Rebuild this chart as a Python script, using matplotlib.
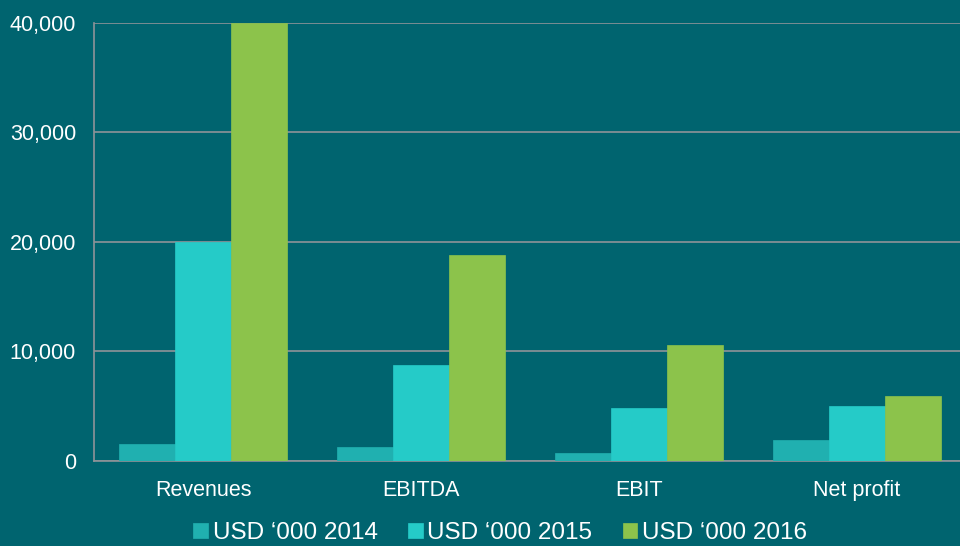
import numpy as np
import matplotlib
matplotlib.use('Agg')
from matplotlib import pyplot as plt
from matplotlib.ticker import FuncFormatter

### data
categories = ['Revenues', 'EBITDA', 'EBIT', 'Net profit']
usd_2014 = [1550, 1280, 730, 1920]
usd_2015 = [20000, 8770, 4840, 5020]
usd_2016 = [40000, 18800, 10600, 5940]
series_names = ['USD \u2018000 2014', 'USD \u2018000 2015', 'USD \u2018000 2016']

bg = '#00646F'
colors = ['#20B0B0', '#25CBC8', '#8CC34B']
plt.rcParams['font.family'] = ['Liberation Sans', 'DejaVu Sans']

fig = plt.figure(figsize=(9.6, 5.46), dpi=100, facecolor=bg)
ax = fig.add_axes([0.098, 0.156, 0.908, 0.802], facecolor=bg)

x = np.arange(len(categories))
w = 0.257
for i, vals in enumerate([usd_2014, usd_2015, usd_2016]):
    ax.bar(x + (i - 1) * w, vals, width=w, color=colors[i], label=series_names[i],
           edgecolor=colors[i], linewidth=0.5, zorder=3)

ax.set_xlim(-0.5, 3.5)
ax.set_ylim(0, 40000)
ax.set_yticks([0, 10000, 20000, 30000, 40000])
ax.yaxis.set_major_formatter(FuncFormatter(lambda v, p: f'{int(v):,}'))
ax.set_xticks(x)
ax.set_xticklabels(categories)
ax.grid(axis='y', color='#8E9398', linewidth=1.2, zorder=0)
ax.tick_params(axis='both', length=0, colors='white', labelsize=15.5)
ax.tick_params(axis='x', pad=14)
ax.tick_params(axis='y', pad=13)
for s in ['top', 'right']:
    ax.spines[s].set_visible(False)
for s in ['left', 'bottom']:
    ax.spines[s].set_color('#8E9398')
    ax.spines[s].set_linewidth(1.2)

leg = fig.legend(loc='lower center', bbox_to_anchor=(0.521, -0.037), ncol=3, frameon=False,
                 fontsize=17.5, handlelength=0.6, handleheight=0.6, handletextpad=0.2,
                 columnspacing=1.25)
for t in leg.get_texts():
    t.set_color('white')

plt.savefig('out.png', dpi=100, facecolor=bg)
